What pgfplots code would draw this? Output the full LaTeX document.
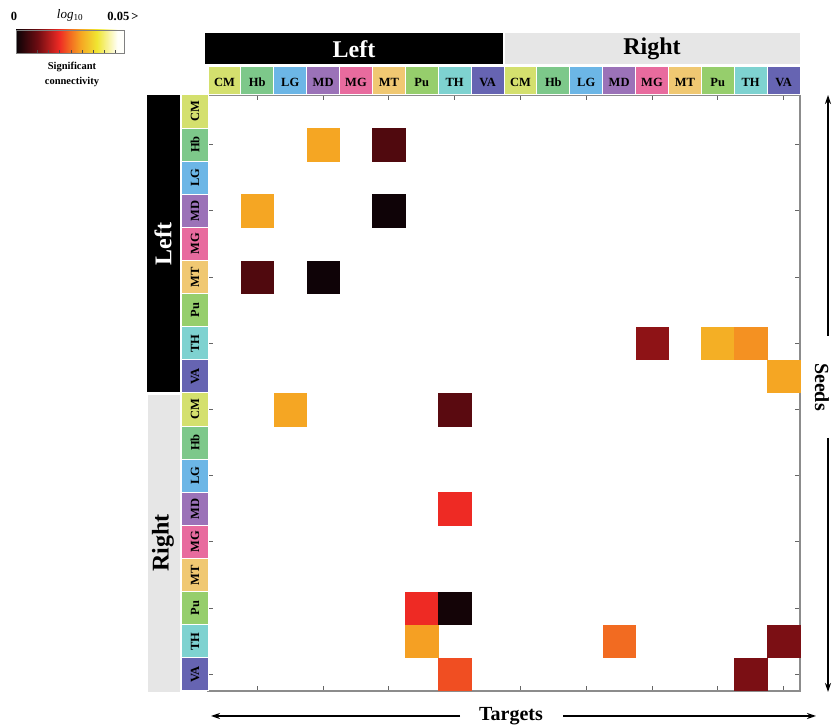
\documentclass[border=0pt]{standalone}
\usepackage{pgfplots}
\pgfplotsset{compat=1.18}
\usepackage{fontspec}
\setmainfont{Liberation Serif}
\usetikzlibrary{arrows.meta}
\definecolor{cCM}{RGB}{212,224,110}
\definecolor{cHb}{RGB}{125,200,138}
\definecolor{cLG}{RGB}{108,182,230}
\definecolor{cMD}{RGB}{155,114,184}
\definecolor{cMG}{RGB}{232,107,158}
\definecolor{cMT}{RGB}{240,200,114}
\definecolor{cPu}{RGB}{150,206,108}
\definecolor{cTH}{RGB}{126,210,208}
\definecolor{cVA}{RGB}{102,100,178}
\definecolor{rgray}{RGB}{230,230,230}
\definecolor{hk0}{RGB}{10,3,6}
\definecolor{hk1}{RGB}{110,12,18}
\definecolor{hk2}{RGB}{238,42,36}
\definecolor{hk3}{RGB}{242,107,33}
\definecolor{hk4}{RGB}{245,166,35}
\definecolor{hk5}{RGB}{240,230,50}
\definecolor{hk6}{RGB}{255,255,250}
\pgfdeclarehorizontalshading{hotbar}{100bp}{color(0bp)=(hk0); color(25bp)=(hk0); color(35bp)=(hk1); color(45bp)=(hk2); color(50bp)=(hk3); color(55bp)=(hk4); color(62.5bp)=(hk5); color(72bp)=(hk6); color(100bp)=(hk6)}

\pgfplotstableread{
x y c
4 2 0.60
6 2 0.14
2 4 0.60
6 4 0.01
2 6 0.14
4 6 0.01
14 8 0.25
16 8 0.62
17 8 0.565
18 9 0.60
3 10 0.60
8 10 0.16
8 13 0.40
7 16 0.40
8 16 0.02
7 17 0.59
13 17 0.50
18 17 0.22
8 18 0.455
17 18 0.22
}\cells

\begin{document}
\begin{tikzpicture}
\path[use as bounding box] (0pt,0pt) rectangle (833pt,727pt);
\begin{axis}[
  at={(208pt,36pt)}, anchor=south west,
  scale only axis, width=592pt, height=596pt,
  xmin=0.5, xmax=18.5, ymin=0.5, ymax=18.5, y dir=reverse,
  xtick={2,4,...,18}, ytick={2,4,...,18},
  xticklabels={}, yticklabels={},
  tick align=inside, major tick length=5pt,
  axis line style={draw=black!45, line width=1.2pt},
  tick style={draw=black!60, line width=1pt},
  colormap={hotc}{rgb255(0cm)=(10,3,6); rgb255(2cm)=(110,12,18); rgb255(4cm)=(238,42,36); rgb255(5cm)=(242,107,33); rgb255(6cm)=(245,166,35); rgb255(7.5cm)=(240,230,50); rgb255(10cm)=(255,255,250)},
  point meta min=0, point meta max=1,
]
\addplot[scatter, only marks, mark=square*, mark size=16.25pt, point meta=explicit,
  scatter/use mapped color={draw=mapped color, fill=mapped color}, line width=0.4pt]
  table[x=x, y=y, meta=c] {\cells};
\end{axis}
\begin{scope}[x=1pt, y=1pt]
% colorbar legend
\shade[shading=hotbar] (16,674) rectangle (124,697);
\draw[black!50, line width=0.6pt] (16,674) rectangle (124,697);
\foreach \t in {37,48,59,71,82,93,104,115} \draw[black!70, line width=0.5pt] (\t,674) -- (\t,677);
\node[font=\fontsize{12.5}{13}\selectfont\bfseries] at (14,711) {0};
\node[font=\fontsize{13}{14}\selectfont] at (70,712) {\textit{log}\textsubscript{10}};
\node[font=\fontsize{12.5}{13}\selectfont\bfseries] at (123,711) {0.05\,>};
\node[font=\fontsize{10.5}{12}\selectfont\bfseries] at (72,660) {Significant};
\node[font=\fontsize{10.5}{12}\selectfont\bfseries] at (72,645) {connectivity};
% top header
\fill[black] (205,663) rectangle (503,694);
\fill[rgray] (505,663) rectangle (800,694);
\node[white, font=\fontsize{24}{26}\selectfont\bfseries] at (354,678) {Left};
\node[black, font=\fontsize{24}{26}\selectfont\bfseries] at (652,678) {Right};
% side header
\fill[black] (147,335) rectangle (180,632);
\fill[rgray] (148,35) rectangle (180,332);
\node[white, rotate=90, font=\fontsize{24}{26}\selectfont\bfseries] at (163,483) {Left};
\node[black, rotate=90, font=\fontsize{24}{26}\selectfont\bfseries] at (163,184) {Right};
% column and row label boxes
\foreach \s in {0,1}{
  \foreach \n [count=\i] in {CM,Hb,LG,MD,MG,MT,Pu,TH,VA}{
    \pgfmathsetmacro{\k}{\s*9+\i}
    \pgfmathsetmacro{\xa}{208+32.889*(\k-1)}
    \pgfmathsetmacro{\xb}{208+32.889*\k}
    \pgfmathsetmacro{\ya}{632-33.111*(\k-1)}
    \pgfmathsetmacro{\yb}{632-33.111*\k}
    \filldraw[fill=c\n, draw=white, line width=1pt] (\xa,632) rectangle (\xb,660);
    \node[font=\fontsize{12.5}{13}\selectfont\bfseries] at ({(\xa+\xb)/2},645) {\n};
    \filldraw[fill=c\n, draw=white, line width=1pt] (181,\ya) rectangle (208,\yb);
    \node[rotate=90, font=\fontsize{12.5}{13}\selectfont\bfseries] at (195,{(\ya+\yb)/2}) {\n};
  }
}
% Targets
\node[font=\fontsize{20}{22}\selectfont\bfseries] at (511,11) {Targets};
\draw[line width=1.6pt, -{Stealth[length=9pt,width=6pt]}] (460,11) -- (211,11);
\draw[line width=1.6pt, -{Stealth[length=9pt,width=6pt]}] (563,11) -- (816,11);
% Seeds
\draw[line width=1.6pt, -{Stealth[length=9pt,width=6pt]}] (828,391) -- (828,632);
\draw[line width=1.6pt, -{Stealth[length=9pt,width=6pt]}] (828,289) -- (828,35);
\node[rotate=-90, font=\fontsize{20}{22}\selectfont\bfseries] at (822,340) {Seeds};
\end{scope}
\end{tikzpicture}
\end{document}
